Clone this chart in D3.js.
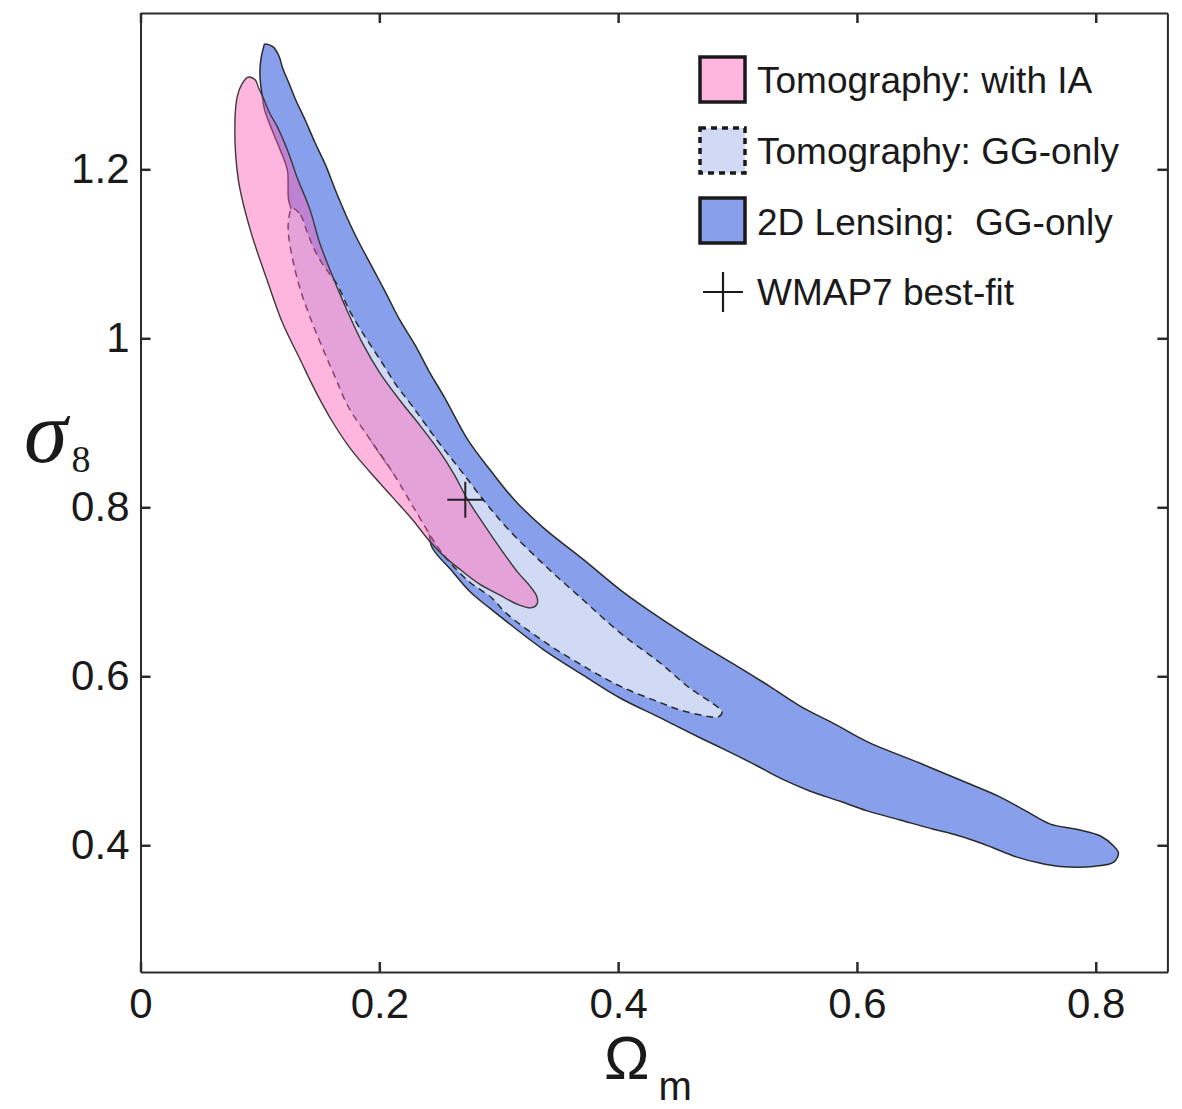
<!DOCTYPE html>
<html>
<head>
<meta charset="utf-8">
<script src="https://cdn.jsdelivr.net/npm/d3@7"></script>
<style>
  html, body { margin: 0; padding: 0; background: #fff; }
  svg { display: block; font-family: "Liberation Sans", Arial, Helvetica, sans-serif; }
</style>
</head>
<body>
<svg id="chart" width="1182" height="1109"></svg>
<script>
// Contour vertices as [Omega_m, sigma_8]

// 2D lensing, GG only
const lensing2D = [
  [0.104,1.348],[0.111,1.345],[0.116,1.334],[0.119,1.320],[0.124,1.303],[0.130,1.282],
  [0.138,1.258],[0.146,1.232],[0.155,1.205],[0.163,1.176],[0.172,1.146],[0.182,1.116],
  [0.193,1.087],[0.205,1.055],[0.217,1.022],[0.230,0.992],[0.242,0.960],[0.255,0.929],
  [0.274,0.880],[0.294,0.842],[0.313,0.809],[0.338,0.775],[0.371,0.738],[0.402,0.702],
  [0.435,0.669],[0.469,0.638],[0.502,0.610],[0.527,0.588],[0.552,0.565],[0.582,0.543],
  [0.608,0.523],[0.653,0.497],[0.692,0.474],[0.720,0.457],[0.741,0.441],[0.762,0.425],
  [0.784,0.419],[0.804,0.411],[0.815,0.399],[0.819,0.391],[0.815,0.380],[0.798,0.375],
  [0.770,0.375],[0.753,0.379],[0.734,0.386],[0.714,0.397],[0.697,0.406],[0.681,0.413],
  [0.664,0.419],[0.636,0.430],[0.608,0.441],[0.586,0.452],[0.561,0.464],[0.538,0.478],
  [0.515,0.495],[0.491,0.512],[0.469,0.527],[0.435,0.551],[0.402,0.574],[0.371,0.601],
  [0.338,0.631],[0.310,0.661],[0.293,0.680],[0.276,0.700],[0.260,0.726],[0.244,0.753],
  [0.240,0.783],[0.221,0.823],[0.201,0.862],[0.184,0.900],[0.170,0.935],[0.160,0.971],
  [0.150,1.006],[0.140,1.042],[0.134,1.077],[0.130,1.110],[0.129,1.134],[0.127,1.149],
  [0.124,1.164],[0.123,1.199],[0.117,1.223],[0.110,1.247],[0.104,1.270],[0.102,1.286],
  [0.100,1.312],[0.101,1.332],[0.103,1.344]
];

// Tomography, GG only
const tomoGG = [
  [0.127,1.154],[0.134,1.146],[0.139,1.128],[0.145,1.107],[0.152,1.089],[0.159,1.075],
  [0.165,1.063],[0.175,1.033],[0.188,1.002],[0.201,0.974],[0.214,0.945],[0.228,0.919],
  [0.248,0.880],[0.268,0.844],[0.287,0.809],[0.306,0.777],[0.338,0.732],[0.371,0.690],
  [0.402,0.651],[0.435,0.616],[0.460,0.586],[0.479,0.568],[0.487,0.558],[0.484,0.552],
  [0.473,0.553],[0.450,0.561],[0.435,0.569],[0.402,0.588],[0.371,0.612],[0.338,0.641],
  [0.306,0.675],[0.294,0.693],[0.276,0.711],[0.259,0.735],[0.248,0.755],[0.229,0.799],
  [0.210,0.844],[0.191,0.883],[0.174,0.919],[0.163,0.954],[0.152,0.990],[0.142,1.025],
  [0.134,1.057],[0.128,1.090],[0.124,1.122],[0.124,1.140]
];

// Tomography with intrinsic alignments
const tomoIA = [
  [0.090,1.309],[0.096,1.306],[0.099,1.296],[0.103,1.284],[0.108,1.267],[0.114,1.252],
  [0.123,1.223],[0.131,1.191],[0.142,1.152],[0.150,1.113],[0.161,1.073],[0.173,1.033],
  [0.186,0.994],[0.200,0.960],[0.217,0.927],[0.234,0.897],[0.251,0.865],[0.263,0.838],
  [0.274,0.809],[0.286,0.783],[0.301,0.752],[0.316,0.723],[0.326,0.707],[0.332,0.694],
  [0.332,0.685],[0.327,0.681],[0.316,0.685],[0.301,0.696],[0.284,0.709],[0.268,0.726],
  [0.255,0.741],[0.242,0.760],[0.228,0.785],[0.211,0.812],[0.192,0.842],[0.175,0.871],
  [0.160,0.903],[0.146,0.939],[0.134,0.974],[0.119,1.018],[0.106,1.069],[0.092,1.128],
  [0.082,1.187],[0.079,1.247],[0.081,1.286],[0.085,1.301]
];

const wmap7 = [0.272, 0.809];

const xTicks = [0, 0.2, 0.4, 0.6, 0.8];
const yTicks = [0.4, 0.6, 0.8, 1, 1.2];

const legendLabels = ["Tomography: with IA", "Tomography: GG-only", "2D Lensing:  GG-only", "WMAP7 best-fit"];

const svg = d3.select("#chart");
const plotLeft = 140.5, plotRight = 1167.4, plotTop = 13, plotBottom = 972;

const x = d3.scaleLinear().domain([0, 0.86]).range([plotLeft, plotRight]);
const y = d3.scaleLinear().domain([0.25, 1.385]).range([plotBottom, plotTop]);

const fmt = d => String(+d.toFixed(1));
const axisColor = "#2b2b2b";

const contour = d3.line()
  .x(d => x(d[0]))
  .y(d => y(d[1]))
  .curve(d3.curveCatmullRomClosed.alpha(0.5));

const plot = svg.append("g");

// 2D lensing region
plot.append("path")
  .attr("d", contour(lensing2D))
  .attr("fill", "#88a0eb")
  .attr("stroke", "#2a2a2a")
  .attr("stroke-width", 1.5);

// tomography GG-only region, dashed outline
plot.append("path")
  .attr("d", contour(tomoGG))
  .attr("fill", "#d0daf5")
  .attr("stroke", "#2a2a2a")
  .attr("stroke-width", 1.5)
  .attr("stroke-dasharray", "7,5");

// tomography with IA, translucent pink on top
plot.append("path")
  .attr("d", contour(tomoIA))
  .attr("fill", "rgb(255,96,183)")
  .attr("fill-opacity", 0.46)
  .attr("stroke", "#3a3a3a")
  .attr("stroke-width", 1.4);

// WMAP7 best fit
const cx = x(wmap7[0]), cy = y(wmap7[1]);
plot.append("path")
  .attr("d", `M${cx - 18},${cy}H${cx + 18}M${cx},${cy - 18}V${cy + 18}`)
  .attr("stroke", "#222")
  .attr("stroke-width", 2)
  .attr("fill", "none");

// axes with inward ticks, mirrored on top and right
const tickLen = 10;
const gx = svg.append("g")
  .attr("transform", `translate(0,${plotBottom})`)
  .call(d3.axisBottom(x).tickValues(xTicks).tickFormat(fmt).tickSizeInner(-tickLen).tickSizeOuter(0).tickPadding(16));
const gy = svg.append("g")
  .attr("transform", `translate(${plotLeft},0)`)
  .call(d3.axisLeft(y).tickValues(yTicks).tickFormat(fmt).tickSizeInner(-tickLen).tickSizeOuter(0).tickPadding(11));
const gt = svg.append("g")
  .attr("transform", `translate(0,${plotTop})`)
  .call(d3.axisTop(x).tickValues(xTicks).tickFormat("").tickSizeInner(-tickLen).tickSizeOuter(0));
const gr = svg.append("g")
  .attr("transform", `translate(${plotRight},0)`)
  .call(d3.axisRight(y).tickValues(yTicks).tickFormat("").tickSizeInner(-tickLen).tickSizeOuter(0));

[gx, gy, gt, gr].forEach(g => {
  g.select(".domain").attr("stroke", axisColor).attr("stroke-width", 2);
  g.selectAll(".tick line").attr("stroke", axisColor).attr("stroke-width", 2.5);
  g.selectAll(".tick text")
    .attr("fill", "#1a1a1a")
    .style("font-family", '"Liberation Sans", Arial, Helvetica, sans-serif')
    .style("font-size", "42px");
});

// axis titles
const xt = svg.append("text")
  .attr("x", 604).attr("y", 1079)
  .attr("fill", "#1a1a1a")
  .style("font-family", '"Liberation Sans", Arial, sans-serif');
xt.append("tspan").style("font-size", "61px").text("Ω");
xt.append("tspan").attr("dy", 21).attr("dx", 9).style("font-size", "40px").text("m");

const yt = svg.append("text")
  .attr("x", 24).attr("y", 462)
  .attr("fill", "#1a1a1a")
  .style("font-family", '"Liberation Serif", "Times New Roman", serif');
yt.append("tspan").style("font-style", "italic").style("font-size", "88px").text("σ");
yt.append("tspan").attr("dy", 10).attr("dx", 4).style("font-size", "38px").text("8");

// legend
const legend = svg.append("g");
const boxX = 700, boxW = 45, rowY = [57, 128, 198];
const boxStyles = [
  { fill: "#ffb6de", dash: null },
  { fill: "#d0daf5", dash: "6,5" },
  { fill: "#88a0eb", dash: null }
];
boxStyles.forEach((s, i) => {
  legend.append("rect")
    .attr("x", boxX).attr("y", rowY[i])
    .attr("width", boxW).attr("height", boxW)
    .attr("fill", s.fill)
    .attr("stroke", "#1a1a1a")
    .attr("stroke-width", 3.5)
    .attr("stroke-dasharray", s.dash);
});
const crossX = 723, crossY = 292;
legend.append("path")
  .attr("d", `M${crossX - 20},${crossY}H${crossX + 20}M${crossX},${crossY - 20}V${crossY + 20}`)
  .attr("stroke", "#1a1a1a")
  .attr("stroke-width", 2.2);

const textY = [93, 164, 235, 305];
legendLabels.forEach((t, i) => {
  legend.append("text")
    .attr("x", 757).attr("y", textY[i])
    .attr("fill", "#1a1a1a")
    .style("font-size", "37px")
    .style("white-space", "pre")
    .attr("xml:space", "preserve")
    .text(t);
});
</script>
</body>
</html>
